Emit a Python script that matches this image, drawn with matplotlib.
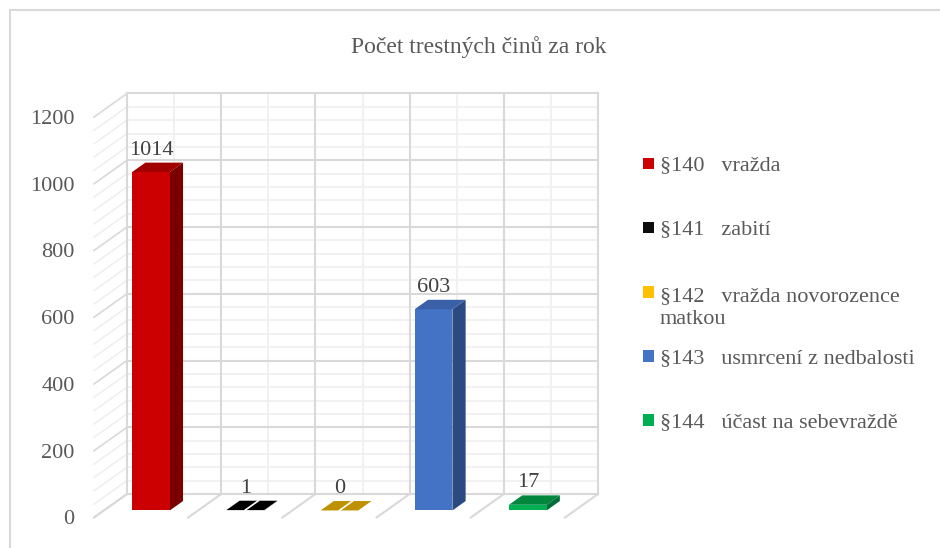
import matplotlib
matplotlib.use('Agg')
import matplotlib.pyplot as plt
from matplotlib.patches import Polygon, Rectangle
from matplotlib.lines import Line2D

title = 'Počet trestných činů za rok'
categories = ['§140   vražda', '§141   zabití', '§142   vražda novorozence\nmatkou',
              '§143   usmrcení z nedbalosti', '§144   účast na sebevraždě']
values = [1014, 1, 0, 603, 17]
front_colors = ['#CC0000', '#0D0D0D', '#FFC000', '#4472C4', '#00B050']
side_colors = ['#7A0000', '#000000', '#7F6000', '#2C4A82', '#006E36']
top_colors = ['#A00000', '#000000', '#BF9000', '#3A60A8', '#00873E']
yticks = [0, 200, 400, 600, 800, 1000, 1200]
minor_step = 40

plt.rcParams['font.family'] = ['Liberation Serif', 'DejaVu Serif']
TXT = '#595959'
FS = 16

W, H = 940, 548
fig = plt.figure(figsize=(W / 100, H / 100), dpi=100)

# geometry (pixels)
back_left, back_right = 127, 598
back_bottom, back_top = 494, 93.5
DXpx, DYpx = 33, 23.5
n = len(values)
ymax = yticks[-1]
cat_px = (back_right - back_left) / n
val_px = (back_bottom - back_top) / ymax
DXc = DXpx / cat_px
DYv = DYpx / val_px

ax = fig.add_axes([(back_left - DXpx) / W, 1 - (back_bottom + DYpx) / H,
                   (back_right - back_left + DXpx) / W, (back_bottom + DYpx - back_top) / H])
ax.set_xlim(-0.5 - DXc, n - 0.5)
ax.set_ylim(-DYv, ymax)
for s in ax.spines.values():
    s.set_visible(False)
ax.set_xticks([])
ax.set_yticks([v - DYv for v in yticks])
ax.set_yticklabels([str(v) for v in yticks])
ax.tick_params(axis='y', length=0, pad=14, labelsize=FS, labelcolor=TXT)
ax.patch.set_visible(False)


def P(x, v, d):
    return (x - (1 - d) * DXc, v - (1 - d) * DYv)


MAJ = '#D9D9D9'
MIN = '#EEEEEE'

# minor gridlines
for v in range(0, ymax + 1, minor_step):
    if v in yticks:
        continue
    ax.plot([-0.5, n - 0.5], [v, v], color=MIN, lw=1.1, zorder=1, clip_on=False)
    a, b = P(-0.5, v, 1), P(-0.5, v, 0)
    ax.plot([a[0], b[0]], [a[1], b[1]], color=MIN, lw=1.1, zorder=1, clip_on=False)
for i in range(n):
    ax.plot([i, i], [0, ymax], color=MIN, lw=1.1, zorder=1, clip_on=False)

# major gridlines
for v in yticks:
    ax.plot([-0.5, n - 0.5], [v, v], color=MAJ, lw=1.5, zorder=2, clip_on=False)
    a, b = P(-0.5, v, 1), P(-0.5, v, 0)
    ax.plot([a[0], b[0]], [a[1], b[1]], color=MAJ, lw=1.2, zorder=2, clip_on=False)
for i in range(n + 1):
    x = i - 0.5
    ax.plot([x, x], [0, ymax], color=MAJ, lw=1.5, zorder=2, clip_on=False)
    a, b = P(x, 0, 1), P(x, 0, 0)
    ax.plot([a[0], b[0]], [a[1], b[1]], color=MAJ, lw=1.5, zorder=2, clip_on=False)

# bars
w = 0.2
d0, d1 = 0.3, 0.7
for i, v in enumerate(values):
    front = [P(i - w, 0, d0), P(i + w, 0, d0), P(i + w, v, d0), P(i - w, v, d0)]
    side = [P(i + w, 0, d0), P(i + w, 0, d1), P(i + w, v, d1), P(i + w, v, d0)]
    top = [P(i - w, v, d0), P(i + w, v, d0), P(i + w, v, d1), P(i - w, v, d1)]
    ax.add_patch(Polygon(side, closed=True, facecolor=side_colors[i], edgecolor='none', zorder=4, clip_on=False))
    ax.add_patch(Polygon(front, closed=True, facecolor=front_colors[i], edgecolor='none', zorder=5, clip_on=False))
    ax.add_patch(Polygon(top, closed=True, facecolor=top_colors[i], edgecolor='none', zorder=6, clip_on=False))
    if v < 0.01 * ymax:
        a, b = P(i, v, d0), P(i, v, d1)
        ax.plot([a[0], b[0]], [a[1], b[1]], color='white', lw=1.2, zorder=7, clip_on=False)
    fx, fy = P(i, v, d0)
    ax.annotate(str(v), (fx, fy), xytext=(0, 15.8), textcoords='offset points',
                ha='center', va='center', fontsize=FS, color='#404040', zorder=8,
                annotation_clip=False)

# title
fig.text(479 / W, 1 - 47 / H, title, ha='center', va='center', fontsize=17, color=TXT)

# legend (manual, Excel-like even spacing)
leg_y0, leg_dy, line_px = 163.3, 64.2, 25
for k, lab in enumerate(categories):
    yc = leg_y0 + k * leg_dy
    fig.add_artist(Rectangle((642.7 / W, 1 - (yc + 5.8) / H), 11.6 / W, 11.6 / H,
                             transform=fig.transFigure, facecolor=front_colors[k], edgecolor='none'))
    extra = lab.count('\n') * line_px
    fig.text(660 / W, 1 - (yc + 7 + extra) / H, lab, ha='left', va='baseline', fontsize=FS,
             color=TXT, linespacing=1.27)

# chart border
fig.add_artist(Line2D([9.5 / W, 1], [1 - 9.5 / H, 1 - 9.5 / H], color='#D9D9D9', lw=1.5,
                      transform=fig.transFigure))
fig.add_artist(Line2D([9.5 / W, 9.5 / W], [0, 1 - 9.5 / H], color='#D9D9D9', lw=1.5,
                      transform=fig.transFigure))

fig.savefig('out.png', dpi=100, facecolor='white')
